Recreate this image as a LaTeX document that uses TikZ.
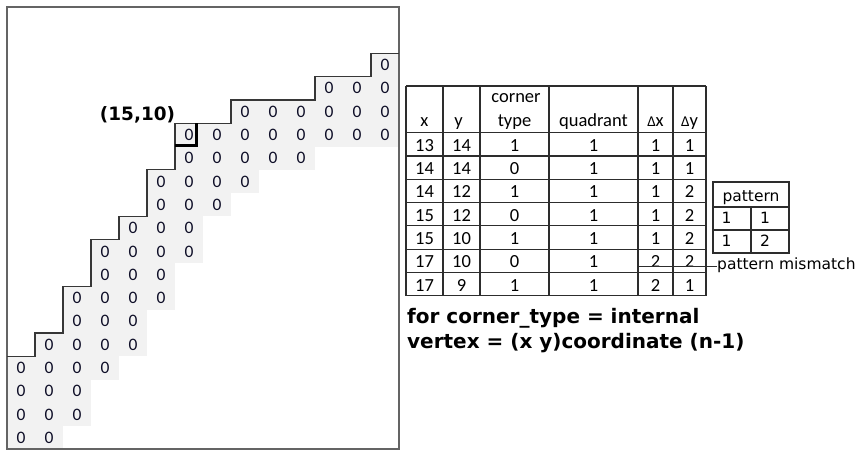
\documentclass[tikz,border=0pt]{standalone}
\usepackage{fontspec}
\setmainfont{Carlito}
\newfontfamily\dejavu{DejaVu Sans}
\definecolor{cellgray}{RGB}{242,242,242}
\definecolor{framegray}{RGB}{100,100,100}
\definecolor{zerocol}{RGB}{15,15,40}
\definecolor{tabline}{RGB}{45,45,45}
\definecolor{stairgray}{RGB}{55,55,55}
\begin{document}
\begin{tikzpicture}[x=1pt,y=-1pt,
  zero/.style={font=\fontsize{17.5}{18}\selectfont, text=zerocol, inner sep=0pt, anchor=center},
  tabtext/.style={font=\fontsize{18.5}{20}\selectfont, inner sep=0pt, anchor=base},
  pattext/.style={font={\dejavu\fontsize{15.5}{17}\selectfont}, inner sep=0pt},
  boldtext/.style={font={\dejavu\bfseries\fontsize{20}{24}\selectfont}, inner sep=0pt, anchor=base west},
  tabrule/.style={draw=tabline, line width=1.1pt},
  stair/.style={draw=stairgray, line width=1.3pt, line join=miter},
  frameline/.style={draw=framegray, line width=1.2pt}]
\useasboundingbox (0,0) rectangle (859,451);
% gray cells and zeros
\foreach \r/\a/\b in {0/13/13,1/11/13,2/8/13,3/6/13,4/6/10,5/5/8,6/5/7,7/4/6,8/3/6,9/3/5,10/2/5,11/2/4,12/1/4,13/0/3,14/0/2,15/0/2,16/0/1}{
  \fill[cellgray] ({7+28*\a},{53.3+23.3*\r}) rectangle ({7+28*(\b+1)},{53.3+23.3*(\r+1)});
  \foreach \c in {\a,...,\b}{
    \node[zero] (z-\r-\c) at ({21+28*\c},{65+23.3*\r}) {0};
  }
}
% frame
\draw[frameline] (7,7) rectangle (399,449);
% staircase
\draw[stair] (399,53.3) -- (371,53.3) -- (371,76.6) -- (315,76.6) -- (315,99.9) -- (231,99.9) -- (231,123.2) -- (175,123.2) -- (175,169.8) -- (147,169.8) -- (147,216.4) -- (119,216.4) -- (119,239.7) -- (91,239.7) -- (91,286.3) -- (63,286.3) -- (63,332.9) -- (35,332.9) -- (35,356.2) -- (7,356.2);
% bold corner marker
\draw[line width=2.6pt, line join=miter] (196.5,123.2) -- (196.5,145.6) -- (175,145.6);
\node[font={\dejavu\bfseries\fontsize{18.4}{20}\selectfont}, inner sep=0pt] (lbl) at (137.5,115) {(15,10)};
% main table
\foreach \yy in {86,132.7,156,179.3,202.6,225.9,249.2,272.5,295.8}
  \draw[tabrule] (406,\yy) -- (706,\yy);
\foreach \xx in {406,443,480,549,638,673,706}
  \draw[tabrule] (\xx,86) -- (\xx,295.8);
\node[tabtext] (h-x) at (424.5,126.3) {x};
\node[tabtext] (h-y) at (458.5,126.3) {y};
\node[tabtext] (h-c1) at (516,102) {corner};
\node[tabtext] (h-c2) at (514.5,126.3) {type};
\node[tabtext] (h-q) at (593.5,126.3) {quadrant};
\node[tabtext] (h-dx) at (655.5,126.3) {{\fontsize{15}{16}\selectfont Δ}x};
\node[tabtext] (h-dy) at (689.5,126.3) {{\fontsize{15}{16}\selectfont Δ}y};
\foreach \xv/\yv/\ct/\q/\dx/\dy [count=\i from 0] in {13/14/1/1/1/1,14/14/0/1/1/1,14/12/1/1/1/2,15/12/0/1/1/2,15/10/1/1/1/2,17/10/0/1/2/2,17/9/1/1/2/1}{
  \node[tabtext] (t-\i-1) at (424.5,{151.3+23.3*\i}) {\xv};
  \node[tabtext] (t-\i-2) at (461.5,{151.3+23.3*\i}) {\yv};
  \node[tabtext] (t-\i-3) at (514.5,{151.3+23.3*\i}) {\ct};
  \node[tabtext] (t-\i-4) at (593.5,{151.3+23.3*\i}) {\q};
  \node[tabtext] (t-\i-5) at (655.5,{151.3+23.3*\i}) {\dx};
  \node[tabtext] (t-\i-6) at (689.5,{151.3+23.3*\i}) {\dy};
}
% pattern table
\draw[tabrule] (713,182) rectangle (789,253);
\draw[tabrule] (713,207) -- (789,207);
\draw[tabrule] (713,230) -- (789,230);
\draw[tabrule] (751,207) -- (751,253);
\node[pattext, anchor=base] (p-h) at (751,201) {pattern};
\node[pattext, anchor=base west] (p-11) at (721.5,223) {1};
\node[pattext, anchor=base west] (p-12) at (760,223) {1};
\node[pattext, anchor=base west] (p-21) at (721.5,246.5) {1};
\node[pattext, anchor=base west] (p-22) at (760,246.5) {2};
% mismatch
\coordinate (s0) at (638,266.3);
\node[pattext, anchor=base west] (mis) at (717,269.5) {pattern mismatch};
\draw[tabline, line width=1.1pt] (s0) -- (s0 -| mis.west);
% bottom text
\node[boldtext] (note1) at (407,323) {for corner\_type = internal};
\node[boldtext] (note2) at (407,348) {vertex = (x y)coordinate (n-1)};
\end{tikzpicture}
\end{document}
